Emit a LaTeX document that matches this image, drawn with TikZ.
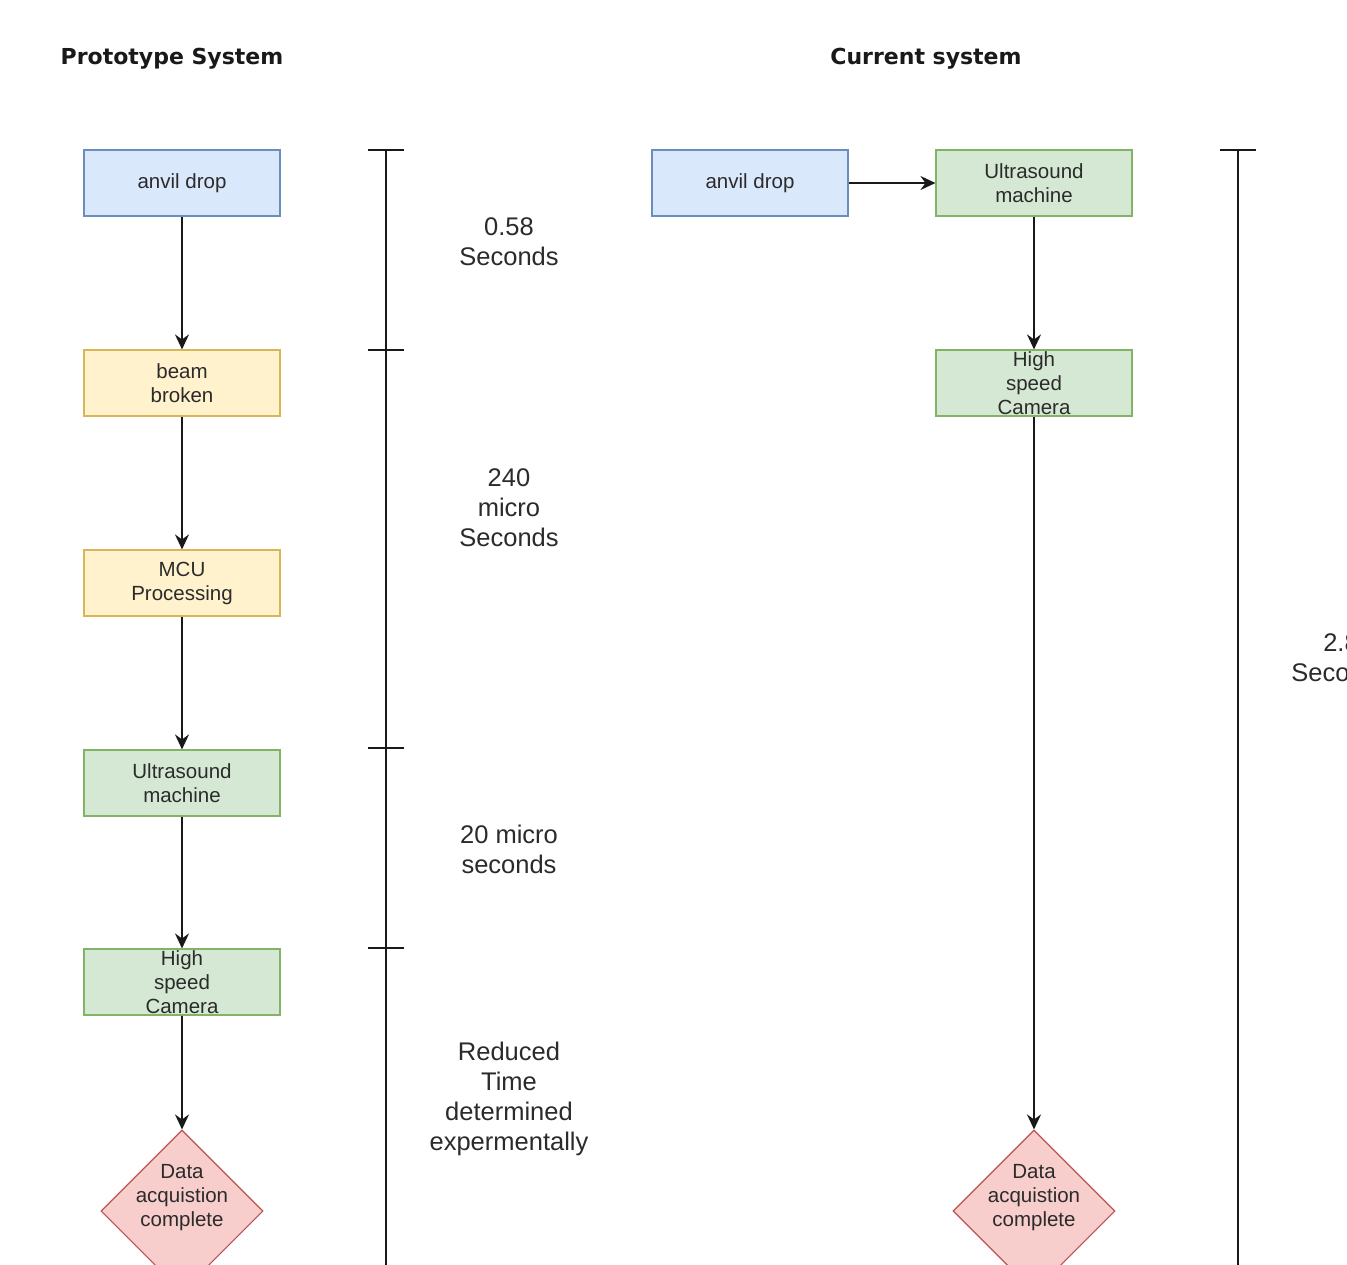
\documentclass[tikz,border=0pt]{standalone}
\usepackage{fontspec}
\setmainfont{Liberation Sans}
\newfontfamily\headfont{DejaVu Sans}
\usetikzlibrary{shapes.geometric,arrows.meta}

\definecolor{blueFill}{HTML}{DAE8FC}
\definecolor{blueLine}{HTML}{6C8EBF}
\definecolor{yellowFill}{HTML}{FFF2CC}
\definecolor{yellowLine}{HTML}{D6B656}
\definecolor{greenFill}{HTML}{D5E8D4}
\definecolor{greenLine}{HTML}{82B366}
\definecolor{redFill}{HTML}{F8CECC}
\definecolor{redLine}{HTML}{B85450}
\definecolor{inkGray}{HTML}{2B2B2B}

\begin{document}
\begin{tikzpicture}[x=1pt,y=-1pt,
  boxtext/.style={font=\fontsize{20.5}{24}\selectfont, text=inkGray, align=center},
  flowbox/.style={boxtext, draw, line width=1.1pt, minimum width=196pt,
    minimum height=66pt, inner sep=0pt},
  bluebox/.style={flowbox, fill=blueFill, draw=blueLine},
  yellowbox/.style={flowbox, fill=yellowFill, draw=yellowLine},
  greenbox/.style={flowbox, fill=greenFill, draw=greenLine},
  endstate/.style={diamond, aspect=1, draw=redLine, fill=redFill,
    line width=1.1pt, minimum width=162pt, minimum height=162pt, inner sep=0pt},
  endlabel/.style={boxtext, yshift=13pt},
  timelabel/.style={font=\fontsize{25.5}{30}\selectfont, text=inkGray, align=center},
  heading/.style={font=\headfont\bfseries\fontsize{22}{26}\selectfont, text=black!90},
  flow/.style={line width=1.8pt, black!90, -{Stealth[length=15pt,width=14pt,inset=5pt]}},
  timebar/.style={line width=2pt, black!90},
]
\clip (0,0) rectangle (1347,1264);
\fill[white] (0,0) rectangle (1347,1264);

% headings
\node[heading] (h1) at (172,59) {Prototype System};
\node[heading] (h2) at (926,59) {Current system};

% prototype chain
\node[bluebox]   (pA) at (182,183) {anvil drop};
\node[yellowbox] (pB) at (182,383) {beam\\broken};
\node[yellowbox] (pC) at (182,583) {MCU\\Processing};
\node[greenbox]  (pD) at (182,783) {Ultrasound\\machine};
\node[greenbox]  (pE) at (182,982) {High\\speed\\Camera};
\node[endstate, label={[endlabel]center:Data\\acquistion\\complete}] (pF) at (182,1211) {};

\draw[flow] (pA) -- (pB);
\draw[flow] (pB) -- (pC);
\draw[flow] (pC) -- (pD);
\draw[flow] (pD) -- (pE);
\draw[flow] (pE) -- (pF);

% current chain
\node[bluebox]  (cA) at (750,183) {anvil drop};
\node[greenbox] (cB) at (1034,183) {Ultrasound\\machine};
\node[greenbox] (cC) at (1034,383) {High\\speed\\Camera};
\node[endstate, label={[endlabel]center:Data\\acquistion\\complete}] (cD) at (1034,1211) {};

\draw[flow] (cA) -- (cB);
\draw[flow] (cB) -- (cC);
\draw[flow] (cC) -- (cD);

% prototype timing scale
\coordinate (sTop) at (386,150);
\coordinate (sEnd) at (386,1270);
\draw[timebar] (sTop) -- (sEnd);
\foreach \ty in {150,350,748,948}
  \draw[timebar] (368,\ty) -- (404,\ty);

\node[timelabel] (t1) at (509,242) {0.58\\Seconds};
\node[timelabel] (t2) at (509,508) {240\\micro\\Seconds};
\node[timelabel] (t3) at (509,849) {20 micro\\seconds};
\node[timelabel] (t4) at (509,1099) {Reduced\\Time\\determined\\expermentally};

% current timing scale
\coordinate (rTop) at (1238,150);
\coordinate (rEnd) at (1238,1270);
\draw[timebar] (rTop) -- (rEnd);
\draw[timebar] (1220,150) -- (1256,150);
\node[timelabel] (t5) at (1341,658) {2.8\\Seconds};
\end{tikzpicture}
\end{document}
